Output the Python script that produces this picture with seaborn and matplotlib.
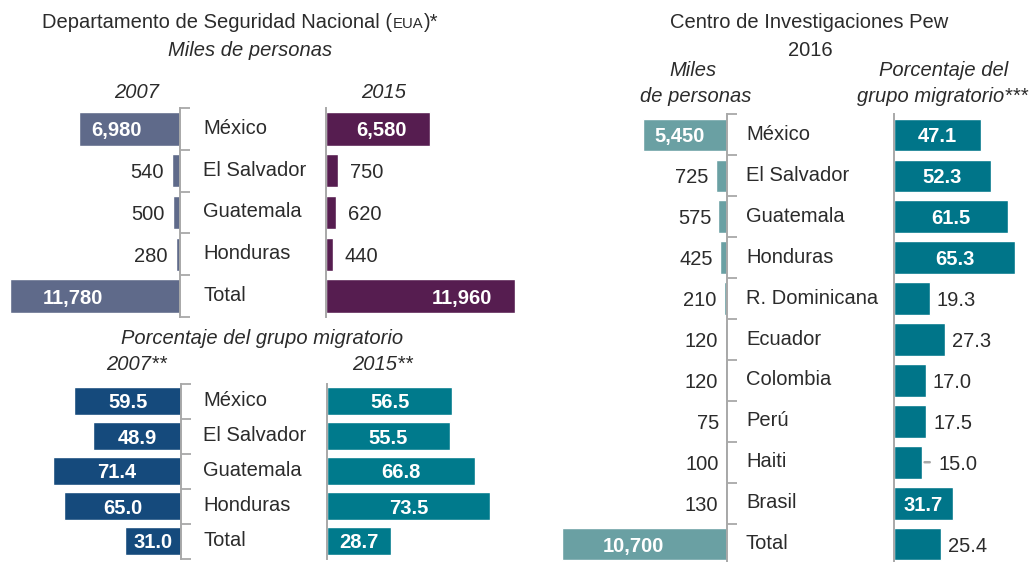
import matplotlib
matplotlib.use("Agg")
import matplotlib.pyplot as plt
import matplotlib.transforms as mtransforms
import numpy as np
import seaborn as sns

# data
dhs_countries = ["México", "El Salvador", "Guatemala", "Honduras", "Total"]
dhs_miles_2007 = [6980, 540, 500, 280, 11780]
dhs_miles_2015 = [6580, 750, 620, 440, 11960]
dhs_pct_2007 = [59.5, 48.9, 71.4, 65.0, 31.0]
dhs_pct_2015 = [56.5, 55.5, 66.8, 73.5, 28.7]

pew_countries = ["México", "El Salvador", "Guatemala", "Honduras", "R. Dominicana",
                 "Ecuador", "Colombia", "Perú", "Haiti", "Brasil", "Total"]
pew_miles = [5450, 725, 575, 425, 210, 120, 120, 75, 100, 130, 10700]
pew_pct = [47.1, 52.3, 61.5, 65.3, 19.3, 27.3, 17.0, 17.5, 15.0, 31.7, 25.4]

sns.set_style("white")
plt.rcParams["font.family"] = ["Liberation Sans", "DejaVu Sans"]

W, H = 1034, 562
TXT = "#2b2b2b"
GRAY = "#a8a8a8"
FS = 14.5
PT = 0.72  # points per pixel at dpi 100

fig = plt.figure(figsize=(W / 100, H / 100), dpi=100)


def px_axes(x0, y0, x1, y1):
    return fig.add_axes([x0 / W, 1 - y1 / H, (x1 - x0) / W, (y1 - y0) / H])


def fmt_miles(v):
    return f"{v:,}"


def fmt_pct(v):
    return f"{v:.1f}"


def draw_panel(rect, cats, vals, color, side, fmt, thresh, inside, pad):
    ax = px_axes(*rect)
    sns.barplot(x=vals, y=cats, orient="h", color=color, saturation=1,
                width=0.8, ax=ax)
    vmax = max(vals)
    if side == "left":
        ax.set_xlim(vmax, 0)
    else:
        ax.set_xlim(0, vmax)
    n = len(cats)
    ax.set_ylim(n - 0.5, -0.5)
    ax.set_xticks([])
    ax.set_xlabel("")
    ax.set_ylabel("")
    ax.set_yticks(np.arange(n + 1) - 0.5)
    ax.set_yticklabels([])
    for s in ax.spines.values():
        s.set_visible(False)
    sp = "right" if side == "left" else "left"
    ax.spines[sp].set_visible(True)
    ax.spines[sp].set_color(GRAY)
    ax.spines[sp].set_linewidth(1.4)
    if side == "left":
        ax.yaxis.tick_right()
    ax.tick_params(axis="y", length=7, width=1.3, color=GRAY, direction="out")
    ax.patch.set_alpha(0)

    sign = -1 if side == "left" else 1
    for i, v in enumerate(vals):
        lab = fmt(v)
        if v >= thresh:
            mode, amt = inside
            if mode == "center":
                ax.annotate(lab, xy=(amt * v, i), ha="center", va="center_baseline",
                            color="white", fontsize=FS, fontweight="bold")
            else:
                ax.annotate(lab, xy=(v, i), xytext=(-sign * amt * PT, 0),
                            textcoords="offset points",
                            ha="right" if side == "right" else "left",
                            va="center_baseline", color="white",
                            fontsize=FS, fontweight="bold")
        else:
            ax.annotate(lab, xy=(v, i), xytext=(sign * pad * PT, 0),
                        textcoords="offset points",
                        ha="right" if side == "left" else "left",
                        va="center_baseline", color=TXT, fontsize=FS)
    return ax


def cat_labels(ax, cats, xpx):
    tr = mtransforms.blended_transform_factory(fig.transFigure, ax.transData)
    for i, c in enumerate(cats):
        ax.text(xpx / W, i - 0.06, c, transform=tr, ha="left", va="center_baseline",
                fontsize=FS, color=TXT)


def ftext(x, y, s, **kw):
    kw.setdefault("fontsize", FS)
    kw.setdefault("color", TXT)
    return fig.text(x / W, 1 - y / H, s, ha=kw.pop("ha", "center"),
                    va=kw.pop("va", "center"), **kw)


# --- Departamento de Seguridad Nacional ---
ax_tl = draw_panel((10, 108, 180, 317), dhs_countries, dhs_miles_2007, "#5f6a8a",
                   "left", fmt_miles, 1000, ("center", 0.63), 8)
ax_tr = draw_panel((326, 108, 515, 317), dhs_countries, dhs_miles_2015, "#561d50",
                   "right", fmt_miles, 1000, ("end", 23), 12)
cat_labels(ax_tl, dhs_countries, 203)

ax_bl = draw_panel((53, 383.5, 181, 558.5), dhs_countries, dhs_pct_2007, "#154a7c",
                   "left", fmt_pct, 0, ("center", 0.5), 8)
ax_br = draw_panel((327, 383.5, 490, 558.5), dhs_countries, dhs_pct_2015, "#007a8c",
                   "right", fmt_pct, 0, ("center", 0.5), 8)
cat_labels(ax_bl, dhs_countries, 203)

# title with small-caps "EUA", pieces laid out along one baseline
title_y = 28
parts = [("Departamento de Seguridad Nacional (", FS), ("EUA", FS * 0.74), (")*", FS)]
renderer = fig.canvas.get_renderer()
x = 42
for s, size in parts:
    t = ftext(x, title_y, s, ha="left", va="baseline", fontsize=size)
    x = t.get_window_extent(renderer).x1 + 0.5

ftext(250, 50, "Miles de personas", style="italic")
ftext(137, 92, "2007", style="italic")
ftext(384, 92, "2015", style="italic")
ftext(262, 338, "Porcentaje del grupo migratorio", style="italic")
ftext(137, 365, "2007**", style="italic")
ftext(383, 365, "2015**", style="italic")

# --- Centro de Investigaciones Pew ---
ax_pl = draw_panel((562, 114.5, 727, 564.5), pew_countries, pew_miles, "#6aa0a3",
                   "left", fmt_miles, 1000, ("center", 0.57), 7)
ax_pr = draw_panel((894, 114.5, 1015, 564.5), pew_countries, pew_pct, "#007589",
                   "right", fmt_pct, 30, ("center", 0.5), 7)
cat_labels(ax_pl, pew_countries, 746)

# leader line for the thin Haiti label
hi = pew_countries.index("Haiti")
for t in list(ax_pr.texts):
    if t.get_text() == fmt_pct(pew_pct[hi]):
        t.remove()
ax_pr.annotate(fmt_pct(pew_pct[hi]), xy=(pew_pct[hi], hi), xytext=(17 * PT, 0),
               textcoords="offset points", ha="left", va="center_baseline",
               fontsize=FS, color=TXT)
ax_pr.annotate("", xy=(pew_pct[hi], hi), xytext=(8 * PT, 0),
               textcoords="offset points",
               arrowprops=dict(arrowstyle="-", color=GRAY, lw=1.8,
                               shrinkA=0, shrinkB=-2))

ftext(809, 23, "Centro de Investigaciones Pew")
ftext(810, 50, "2016")
ftext(693, 71, "Miles", style="italic")
ftext(696, 97, "de personas", style="italic")
ftext(944, 71, "Porcentaje del", style="italic")
ftext(942, 97, "grupo migratorio***", style="italic")

fig.savefig("out.png", dpi=100)
